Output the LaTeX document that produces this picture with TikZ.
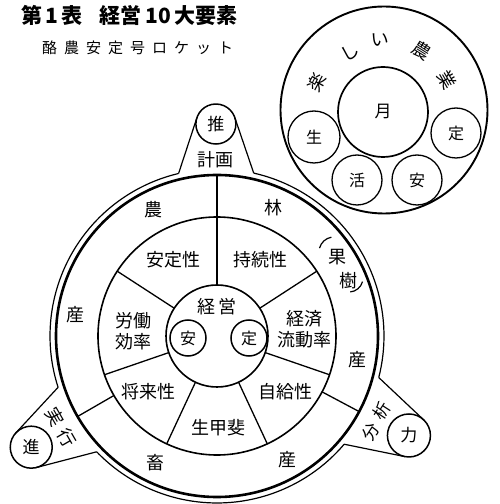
\documentclass[tikz,border=0pt]{standalone}
\usepackage{fontspec}
\newfontfamily\jp{Noto Sans CJK JP}
\usetikzlibrary{calc}
\begin{document}
\begin{tikzpicture}[x=1pt,y=1pt,
  lbl/.style={font=\jp\fontsize{18}{18}\selectfont, inner sep=0pt},
  ring/.style={line width=1.6pt},
  thin/.style={line width=1.2pt},
  thick/.style={line width=2.6pt},
  spoke/.style={line width=1.3pt},
  ball/.style={circle, draw, line width=1.5pt, inner sep=0pt, font=\jp\fontsize{17}{17}\selectfont},
  smallball/.style={ball, line width=1.3pt, minimum size=50pt, font=\jp\fontsize{16}{16}\selectfont}]
\useasboundingbox (0,0) rectangle (500,504);
% title
\node[anchor=west, inner sep=0pt, font=\jp\bfseries\fontsize{21}{21}\selectfont] (title) at (21,489) {第\,1\,表\hspace{0.8em}経営\,10\,大要素};
\node[anchor=west, inner sep=0pt, font=\jp\fontsize{15}{15}\selectfont] (sub) at (42,456) {酪\hspace{7pt}農\hspace{7pt}安\hspace{7pt}定\hspace{7pt}号\hspace{7pt}ロ\hspace{7pt}ケ\hspace{7pt}ッ\hspace{7pt}ト};
% main rocket
\coordinate (C) at (217,168);
\draw[thick] (C) circle[radius=161];
\draw[ring] (C) circle[radius=119];
\draw[ring] (C) circle[radius=51];
\foreach \a in {90,33,-19,-65,-115,-161,147}
  \draw[spoke] ($(C)+(\a:51)$) -- ($(C)+(\a:119)$);
\foreach \a in {90,-28,210}
  \draw[spoke] ($(C)+(\a:119)$) -- ($(C)+(\a:161)$);
% tabs
\node[ball, minimum size=40pt] (push) at ($(C)+(90.3:212)$) {推};
\node[ball, minimum size=42pt] (susumu) at ($(C)+(210.9:216.5)$) {進};
\node[ball, minimum size=43pt] (chikara) at ($(C)+(-27.4:216.2)$) {力};
\draw[thin] ($(C)+(77.3:167)$) arc[start angle=77.3, end angle=-14.4, radius=167];
\draw[thin] ($(C)+(-40.4:167)$) arc[start angle=-40.4, end angle=-136.1, radius=167];
\draw[thin] ($(C)+(197.9:167)$) arc[start angle=197.9, end angle=103.3, radius=167];
\draw[thin] ($(C)+(103.3:167)$) -- ($(push)+(162:20)$);
\draw[thin] ($(C)+(77.3:167)$) -- ($(push)+(18:20)$);
\draw[thin] ($(C)+(223.9:167)$) -- ($(susumu)+(283:21)$);
\draw[thin] ($(C)+(197.9:167)$) -- ($(susumu)+(139:21)$);
\draw[thin] ($(C)+(-14.4:167)$) -- ($(chikara)+(45:21.5)$);
\draw[thin] ($(C)+(-40.4:167)$) -- ($(chikara)+(-100:21.5)$);
% tab labels
\node[lbl] (keikaku) at (215,344) {計画};
\node[lbl, rotate=-60] (jitsu) at (55,87) {実};
\node[lbl, rotate=-60] (kou) at (67,66) {行};
\node[lbl, font=\jp\fontsize{17}{17}\selectfont, rotate=57] (bun) at (371,72) {分};
\node[lbl, font=\jp\fontsize{17}{17}\selectfont, rotate=57] (seki) at (382,93) {析};
% outer ring labels
\node[lbl] (nou) at (153,294) {農};
\node[lbl] (san1) at (75,189) {産};
\node[lbl] (rin) at (273,296) {林};
\node[lbl] (ka) at (337,247) {果};
\node[lbl] (ju) at (348,223) {樹};
\draw[thin] (334,252) ++(100:15) arc[start angle=100, end angle=165, radius=15];
\draw[thin] (349,226) ++(-85:14) arc[start angle=-85, end angle=-15, radius=14];
\node[lbl] (san2) at (357,144) {産};
\node[lbl] (chiku) at (155,41) {畜};
\node[lbl] (san3) at (287,44) {産};
% middle ring labels
\node[lbl] (antei) at (173,244) {安定性};
\node[lbl] (jizoku) at (260,244) {持続性};
\node[lbl, align=center] (roudou) at (133,173) {労働\\[3pt]効率};
\node[lbl, align=center] (keizai) at (304,175) {経済\\[3pt]流動率};
\node[lbl] (shourai) at (148,112) {将来性};
\node[lbl] (ikigai) at (218,76) {生甲斐};
\node[lbl] (jikyu) at (285,112) {自給性};
% center
\node[lbl] (keiei) at (217,197) {経\hspace{4pt}営};
\node[ball, minimum size=36pt, font=\jp\fontsize{16}{16}\selectfont] (an) at (188,166) {安};
\node[ball, minimum size=36pt, font=\jp\fontsize{16}{16}\selectfont] (tei) at (249,166) {定};
% top-right circle
\coordinate (T) at (384,394);
\draw[line width=1.9pt] (T) circle[radius=103.5];
\node[ball, minimum size=90pt, line width=1.7pt] (tsuki) at (383,392) {月};
\node[smallball, minimum size=52pt] (sei) at (314,367) {生};
\node[smallball] (tei2) at (456,371) {定};
\node[smallball] (katsu) at (357,324) {活};
\node[smallball] (an2) at (417,324) {安};
\node[lbl, rotate=62] (tano) at (317,422) {楽};
\node[lbl, rotate=30] (shi) at (350,452) {し};
\node[lbl, rotate=3] (i) at (380,464) {い};
\node[lbl, rotate=-32] (nou2) at (422,454) {農};
\node[lbl, rotate=-60] (gyou) at (447,424) {業};
\end{tikzpicture}
\end{document}
